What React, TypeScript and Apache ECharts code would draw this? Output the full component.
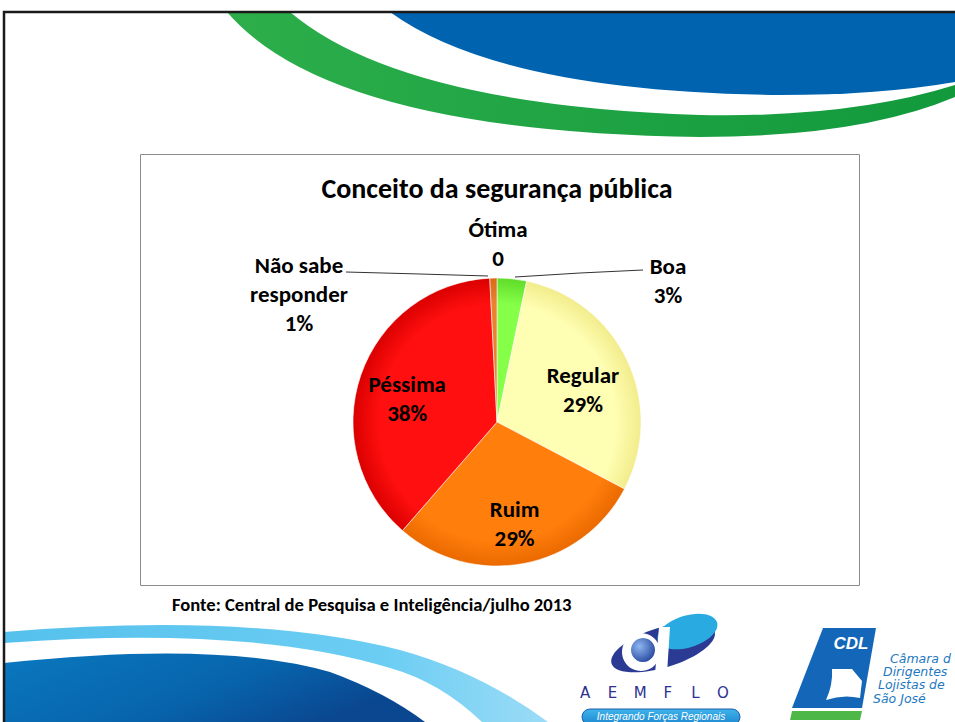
import React, { useEffect, useRef } from "react";
import * as echarts from "echarts";

// ---------- data ----------
const chartTitle = "Conceito da segurança pública";
const sourceNote = "Fonte: Central de Pesquisa e Inteligência/julho 2013";
const categories = ["Ótima", "Boa", "Regular", "Ruim", "Péssima", "Não sabe responder"];
const values = [0, 3.3, 29.4, 28.7, 37.8, 0.8];
const centerColors = ["#5B8BD0", "#86FF48", "#FFFFB4", "#FF7E0C", "#FF0F0F", "#EC8230"];
const edgeColors = ["#3F6FB5", "#5FDC2A", "#F2EC8C", "#EA6A00", "#DA0000", "#D96A18"];
const aemfloLetters = ["A", "E", "M", "F", "L", "O"];
const cdlLines = ["Câmara d", "Dirigentes", "Lojistas de", "São José"];

const FONT = "Carlito, Calibri, Lato, 'Noto Sans', sans-serif";
const CX = 497;
const CY = 422;
const R = 144;

export default function App() {
  const ref = useRef<HTMLDivElement>(null);

  useEffect(() => {
    document.body.style.margin = "0";
    if (!ref.current) return;

    const reg = (name: string, d: string) =>
      echarts.graphic.registerShape(name, echarts.graphic.extendPath(d, {}) as any);
    reg("topBlue", "M390,12 Q500,92 780,95 Q880,95 955,82 L955,12 Z");
    reg("topGreen", "M227,12 Q330,132 700,137 Q860,137 955,97 L955,85 Q850,118 700,115 Q400,105 290,12 Z");
    reg("botLight", "M4,632 Q250,612 400,650 Q480,672 548,722 L482,722 Q440,682 390,668 Q250,625 4,643 Z");
    reg("botDark", "M4,663 Q220,640 330,672 Q385,692 425,722 L4,722 Z");
    reg("cdlDoc", "M832,669 L852,669 L862,681 L860,698 Q843,694 826,700 Q833,685 832,669 Z");

    const chart = echarts.init(ref.current, null, { renderer: "svg" });
    const total = values.reduce((a, b) => a + b, 0);
    const cumBefore = values.map((_, i) => values.slice(0, i).reduce((a, b) => a + b, 0));
    const labelNames = categories.map((c) => c.replace(" responder", "\nresponder"));
    const pctText = (v: number) => (v === 0 ? "0" : Math.round((v / total) * 100) + "%");

    const isInside = (i: number) => values[i] / total > 0.1;

    const outsidePos: Record<number, { x: number; y: number; line?: number[][] }> = {
      0: { x: CX + 1, y: CY - R - 35 },
      1: { x: CX + R + 27, y: CY - R + 2, line: [[515, 277], [580, 273], [643, 270]] },
      5: { x: CX - R - 54, y: CY - R + 16, line: [[488, 276], [420, 274], [346, 272]] },
    };

    const data = values.map((v, i) => ({
      name: categories[i],
      value: v,
      itemStyle: {
        color: {
          type: "radial",
          x: CX,
          y: CY,
          r: R,
          global: true,
          colorStops: [
            { offset: 0, color: centerColors[i] },
            { offset: 0.82, color: centerColors[i] },
            { offset: 1, color: edgeColors[i] },
          ],
        },
      },
      label: { position: isInside(i) ? "inside" : "outside" },
      labelLine: { show: i === 1 || i === 5 },
    }));

    chart.setOption({
      animation: false,
      backgroundColor: "#ffffff",
      graphic: [
        { type: "topBlue", x: 0, y: 0, z: 1, style: { fill: "#0063B0" } },
        {
          type: "topGreen",
          x: 0,
          y: 0,
          z: 1,
          style: {
            fill: new echarts.graphic.LinearGradient(0, 0, 1, 0, [
              { offset: 0, color: "#2DAE4B" },
              { offset: 1, color: "#11993C" },
            ]),
          },
        },
        {
          type: "botLight",
          x: 0,
          y: 0,
          z: 1,
          style: {
            fill: new echarts.graphic.LinearGradient(0, 0, 1, 0, [
              { offset: 0, color: "#55C1EC" },
              { offset: 0.7, color: "#6CCDF3" },
              { offset: 1, color: "#9BDCF6" },
            ]),
          },
        },
        {
          type: "botDark",
          x: 0,
          y: 0,
          z: 1,
          style: {
            fill: new echarts.graphic.LinearGradient(0, 0, 1, 0.4, [
              { offset: 0, color: "#0A78BF" },
              { offset: 0.6, color: "#0764AC" },
              { offset: 1, color: "#0A4790" },
            ]),
          },
        },
        {
          type: "polyline",
          z: 5,
          shape: { points: [[4, 722], [4, 12], [955, 12]] },
          style: { stroke: "#1a1a1a", lineWidth: 2.5, fill: null },
        },
        {
          type: "rect",
          z: 1,
          shape: { x: 140.5, y: 154.5, width: 719, height: 431 },
          style: { fill: "#ffffff", stroke: "#8c8c8c", lineWidth: 1 },
        },
        {
          type: "text",
          z: 3,
          x: CX,
          y: 188,
          style: {
            text: chartTitle,
            fontFamily: FONT,
            fontSize: 28,
            fontWeight: "bold",
            fill: "#000",
            align: "center",
            verticalAlign: "middle",
          },
        },
        {
          type: "text",
          z: 3,
          x: 172,
          y: 604,
          style: {
            text: sourceNote,
            fontFamily: FONT,
            fontSize: 18.6,
            fontWeight: "bold",
            fill: "#000",
            align: "left",
            verticalAlign: "middle",
          },
        },
        // AEMFLO logo
        {
          type: "ellipse",
          z: 3,
          shape: { cx: 663, cy: 648, rx: 54, ry: 20 },
          rotation: 0.3,
          originX: 663,
          originY: 648,
          style: { fill: "#2B3A93" },
        },
        {
          type: "ellipse",
          z: 3,
          shape: { cx: 691, cy: 640, rx: 31, ry: 16 },
          rotation: 0.3,
          originX: 663,
          originY: 648,
          style: { fill: "#29AAE1" },
        },
        { type: "circle", z: 3, shape: { cx: 641, cy: 652, r: 19 }, style: { fill: "#ffffff" } },
        {
          type: "circle",
          z: 3,
          shape: { cx: 643, cy: 650, r: 12 },
          style: {
            fill: new echarts.graphic.RadialGradient(0.35, 0.35, 0.8, [
              { offset: 0, color: "#8DB6F0" },
              { offset: 1, color: "#1D3C96" },
            ]),
          },
        },
        {
          type: "polygon",
          z: 3,
          shape: { points: [[659, 627], [670, 627], [667, 674], [655, 674]] },
          style: { fill: "#ffffff" },
        },
        ...aemfloLetters.map((l, i) => ({
          type: "text",
          z: 3,
          x: 585 + i * 27.6,
          y: 693,
          style: {
            text: l,
            fontFamily: "'DejaVu Sans', sans-serif",
            fontSize: 15,
            fill: "#2E3192",
            align: "center",
            verticalAlign: "middle",
          },
        })),
        {
          type: "rect",
          z: 3,
          shape: { x: 582, y: 709, width: 158, height: 16, r: 8 },
          style: {
            fill: new echarts.graphic.LinearGradient(0, 0, 0, 1, [
              { offset: 0, color: "#3FB4EA" },
              { offset: 1, color: "#1C86D0" },
            ]),
            stroke: "#1F5FAF",
            lineWidth: 1,
          },
        },
        {
          type: "text",
          z: 4,
          x: 661,
          y: 716,
          style: {
            text: "Integrando Forças Regionais",
            fontFamily: "'Liberation Sans', Arial, sans-serif",
            fontSize: 10,
            fontStyle: "italic",
            fill: "#ffffff",
            align: "center",
            verticalAlign: "middle",
          },
        },
        // CDL logo
        {
          type: "polygon",
          z: 3,
          shape: { points: [[823, 628], [876, 628], [862, 708], [792, 708]] },
          style: { fill: "#1467B8" },
        },
        { type: "cdlDoc", x: 0, y: 0, z: 4, style: { fill: "#ffffff" } },
        {
          type: "polygon",
          z: 3,
          shape: { points: [[792, 711], [862, 711], [860, 720], [790, 720]] },
          style: { fill: "#4DB848" },
        },
        {
          type: "text",
          z: 4,
          x: 851,
          y: 643,
          style: {
            text: "CDL",
            fontFamily: "'Liberation Sans', Arial, sans-serif",
            fontSize: 17,
            fontWeight: "bold",
            fontStyle: "italic",
            fill: "#ffffff",
            align: "center",
            verticalAlign: "middle",
          },
        },
        ...cdlLines.map((t, i) => ({
          type: "text",
          z: 3,
          x: [890, 883, 878, 873][i],
          y: 658 + i * 13.4,
          style: {
            text: t,
            fontFamily: "'DejaVu Sans', sans-serif",
            fontSize: 12.5,
            fontStyle: "italic",
            fill: "#1E78C2",
            align: "left",
            verticalAlign: "middle",
          },
        })),
      ],
      series: [
        {
          type: "pie",
          z: 2,
          center: [CX, CY],
          radius: R,
          startAngle: 90,
          clockwise: true,
          avoidLabelOverlap: false,
          minShowLabelAngle: 0,
          itemStyle: { borderColor: "rgba(255,255,255,0.55)", borderWidth: 1 },
          label: {
            show: true,
            formatter: (p: any) => `${labelNames[p.dataIndex]}\n${pctText(p.value)}`,
            fontFamily: FONT,
            fontSize: 23,
            fontWeight: "bold",
            lineHeight: 29,
            color: "#000",
            align: "center",
          },
          labelLine: {
            show: true,
            length: 10,
            length2: 10,
            lineStyle: { color: "#333", width: 1 },
          },
          labelLayout: (params: any) => {
            const i = params.dataIndex;
            if (isInside(i)) {
              const mid = ((cumBefore[i] + values[i] / 2) / total) * Math.PI * 2;
              const rr = R * 0.66;
              return {
                x: CX + rr * Math.sin(mid),
                y: CY - rr * Math.cos(mid) + 8,
                align: "center",
                verticalAlign: "middle",
              };
            }
            const o = outsidePos[i];
            const res: any = { x: o.x, y: o.y, align: "center", verticalAlign: "middle" };
            if (o.line) res.labelLinePoints = o.line;
            return res;
          },
          data,
        },
      ],
    });

    return () => chart.dispose();
  }, []);

  return <div ref={ref} style={{ width: 955, height: 722 }} />;
}
